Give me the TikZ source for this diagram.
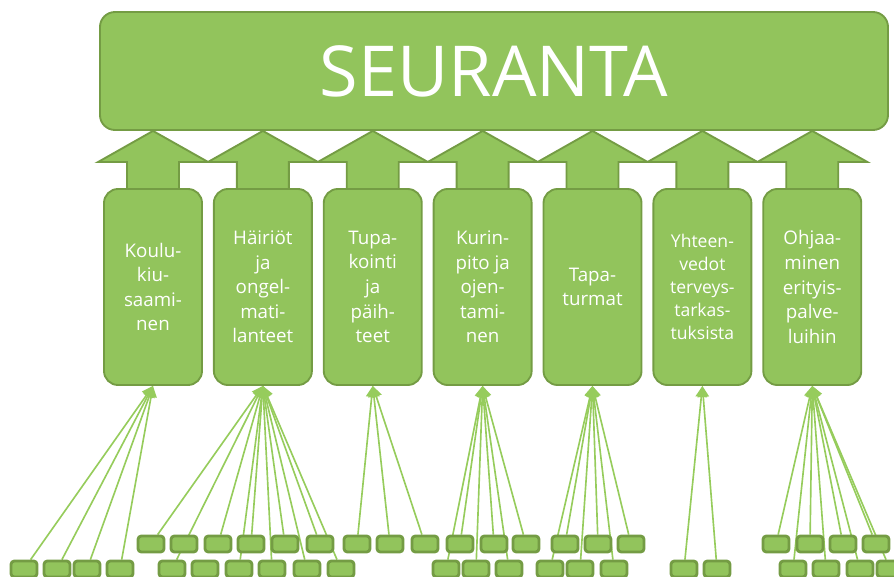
\documentclass[tikz,border=0pt]{standalone}
\usepackage{fontspec}
\setmainfont{Open Sans}
\usepackage{tikz}
\usetikzlibrary{arrows.meta, positioning, backgrounds}

\definecolor{vihrea}{RGB}{146,196,92}
\definecolor{reuna}{RGB}{116,156,68}
\definecolor{viiva}{RGB}{150,204,92}

\begin{document}
\begin{tikzpicture}[
      x=0.03cm, y=0.03cm,
      seuranta/.style={rectangle, draw=reuna, fill=vihrea, rounded corners=0.45cm, line width=1.6pt, minimum width=23.64cm, minimum height=3.54cm, text=white, font=\fontsize{60}{60}\selectfont},
      alue/.style    ={rectangle, draw=reuna, fill=vihrea, rounded corners=0.42cm, line width=1.6pt, minimum width=2.94cm, minimum height=5.88cm, text=white, align=center, font=\fontsize{16}{21}\selectfont},
      pala/.style    ={rectangle, draw=reuna, fill=vihrea, rounded corners=0.1cm, line width=2.4pt, minimum width=0.78cm, minimum height=0.48cm, inner sep=0pt},
      nuoli/.style   ={draw=reuna, fill=vihrea, line width=1.6pt, line join=miter},
      linkki/.style  ={draw=viiva, line width=1.4pt, -{Triangle[length=0.33cm, width=0.34cm]}},
      node distance=0.30cm
    ]

    \path[use as bounding box, clip] (0,0) rectangle (894,576);

    % Ylin laatikko
    \node[seuranta] (S) at (494,505) {SEURANTA};

    % Osa-alueet
    \node[alue] (KO) at (153,289) {Koulu-\\kiu-\\saami-\\nen};
    \node[alue, right=of KO] (HO) {Häiriöt\\ja\\ongel-\\mati-\\lanteet};
    \node[alue, right=of HO] (TP) {Tupa-\\kointi\\ja\\päih-\\teet};
    \node[alue, right=of TP] (KP) {Kurin-\\pito ja\\ojen-\\tami-\\nen};
    \node[alue, right=of KP] (TT) {Tapa-\\turmat};
    \node[alue, right=of TT, font=\fontsize{15}{19.5}\selectfont] (YT) {Yhteen-\\vedot\\terveys-\\tarkas-\\tuksista};
    \node[alue, right=of YT] (OE) {Ohjaa-\\minen\\erityis-\\palve-\\luihin};

    % Pienet laatikot, ylempi rivi
    \node[pala] (y1)  at (151,32) {};
    \node[pala] (y2)  at (184,32) {};
    \node[pala] (y3)  at (218,32) {};
    \node[pala] (y4)  at (251,32) {};
    \node[pala] (y5)  at (285,32) {};
    \node[pala] (y6)  at (320,32) {};
    \node[pala] (y7)  at (357,32) {};
    \node[pala] (y8)  at (390,32) {};
    \node[pala] (y9)  at (425,32) {};
    \node[pala] (y10) at (460,32) {};
    \node[pala] (y11) at (494,32) {};
    \node[pala] (y12) at (526,32) {};
    \node[pala] (y13) at (565,32) {};
    \node[pala] (y14) at (598,32) {};
    \node[pala] (y15) at (631,32) {};
    \node[pala] (y16) at (776,32) {};
    \node[pala] (y17) at (810,32) {};
    \node[pala] (y18) at (843,32) {};
    \node[pala] (y19) at (876,32) {};

    % Pienet laatikot, alempi rivi
    \node[pala] (a1)  at (24,7) {};
    \node[pala] (a2)  at (57,7) {};
    \node[pala] (a3)  at (87,7) {};
    \node[pala] (a4)  at (120,7) {};
    \node[pala] (a5)  at (172,7) {};
    \node[pala] (a6)  at (205,7) {};
    \node[pala] (a7)  at (239,7) {};
    \node[pala] (a8)  at (272,7) {};
    \node[pala] (a9)  at (307,7) {};
    \node[pala] (a10) at (341,7) {};
    \node[pala] (a11) at (446,7) {};
    \node[pala] (a12) at (476,7) {};
    \node[pala] (a13) at (509,7) {};
    \node[pala] (a14) at (550,7) {};
    \node[pala] (a15) at (580,7) {};
    \node[pala] (a16) at (614,7) {};
    \node[pala] (a17) at (684,7) {};
    \node[pala] (a18) at (717,7) {};
    \node[pala] (a19) at (793,7) {};
    \node[pala] (a20) at (826,7) {};
    \node[pala] (a21) at (860,7) {};
    \node[pala] (a22) at (890,7) {};

    \begin{scope}[on background layer]
    % Isot nuolet ylös
    \draw[nuoli] (KO.north) ++(-26,-3) -- ++(0,29) -- ++(-29,0) -- (KO.north |- S.south) -- ++(55,-31) -- ++(-29,0) -- ++(0,-29) -- cycle;
    \draw[nuoli] (HO.north) ++(-26,-3) -- ++(0,29) -- ++(-29,0) -- (HO.north |- S.south) -- ++(55,-31) -- ++(-29,0) -- ++(0,-29) -- cycle;
    \draw[nuoli] (TP.north) ++(-26,-3) -- ++(0,29) -- ++(-29,0) -- (TP.north |- S.south) -- ++(55,-31) -- ++(-29,0) -- ++(0,-29) -- cycle;
    \draw[nuoli] (KP.north) ++(-26,-3) -- ++(0,29) -- ++(-29,0) -- (KP.north |- S.south) -- ++(55,-31) -- ++(-29,0) -- ++(0,-29) -- cycle;
    \draw[nuoli] (TT.north) ++(-26,-3) -- ++(0,29) -- ++(-29,0) -- (TT.north |- S.south) -- ++(55,-31) -- ++(-29,0) -- ++(0,-29) -- cycle;
    \draw[nuoli] (YT.north) ++(-26,-3) -- ++(0,29) -- ++(-29,0) -- (YT.north |- S.south) -- ++(55,-31) -- ++(-29,0) -- ++(0,-29) -- cycle;
    \draw[nuoli] (OE.north) ++(-26,-3) -- ++(0,29) -- ++(-29,0) -- (OE.north |- S.south) -- ++(55,-31) -- ++(-29,0) -- ++(0,-29) -- cycle;

    % Koulukiusaaminen
    \draw[linkki] (a1) -- (KO.south);
    \draw[linkki] (a2) -- (KO.south);
    \draw[linkki] (a3) -- (KO.south);
    \draw[linkki] (a4) -- (KO.south);

    % Häiriöt ja ongelmatilanteet
    \draw[linkki] (y1)  -- (HO.south);
    \draw[linkki] (a5)  -- (HO.south);
    \draw[linkki] (y3)  -- (HO.south);
    \draw[linkki] (a7)  -- (HO.south);
    \draw[linkki] (y4)  -- (HO.south);
    \draw[linkki] (a8)  -- (HO.south);
    \draw[linkki] (y5)  -- (HO.south);
    \draw[linkki] (a9)  -- (HO.south);
    \draw[linkki] (y6)  -- (HO.south);
    \draw[linkki] (a10) -- (HO.south);

    % Tupakointi ja päihteet
    \draw[linkki] (y7) -- (TP.south);
    \draw[linkki] (y8) -- (TP.south);
    \draw[linkki] (y9) -- (TP.south);

    % Kurinpito ja ojentaminen
    \draw[linkki] (a11) -- (KP.south);
    \draw[linkki] (y10) -- (KP.south);
    \draw[linkki] (a12) -- (KP.south);
    \draw[linkki] (y11) -- (KP.south);
    \draw[linkki] (a13) -- (KP.south);
    \draw[linkki] (y12) -- (KP.south);

    % Tapaturmat
    \draw[linkki] (a14) -- (TT.south);
    \draw[linkki] (y13) -- (TT.south);
    \draw[linkki] (a15) -- (TT.south);
    \draw[linkki] (y14) -- (TT.south);
    \draw[linkki] (a16) -- (TT.south);
    \draw[linkki] (y15) -- (TT.south);

    % Yhteenvedot
    \draw[linkki] (a17) -- (YT.south);
    \draw[linkki] (a18) -- (YT.south);

    % Ohjaaminen erityispalveluihin
    \draw[linkki] (y16) -- (OE.south);
    \draw[linkki] (a19) -- (OE.south);
    \draw[linkki] (y17) -- (OE.south);
    \draw[linkki] (a20) -- (OE.south);
    \draw[linkki] (y18) -- (OE.south);
    \draw[linkki] (a21) -- (OE.south);
    \draw[linkki] (y19) -- (OE.south);
    \draw[linkki] (a22) -- (OE.south);
    \end{scope}

  \end{tikzpicture}
\end{document}
